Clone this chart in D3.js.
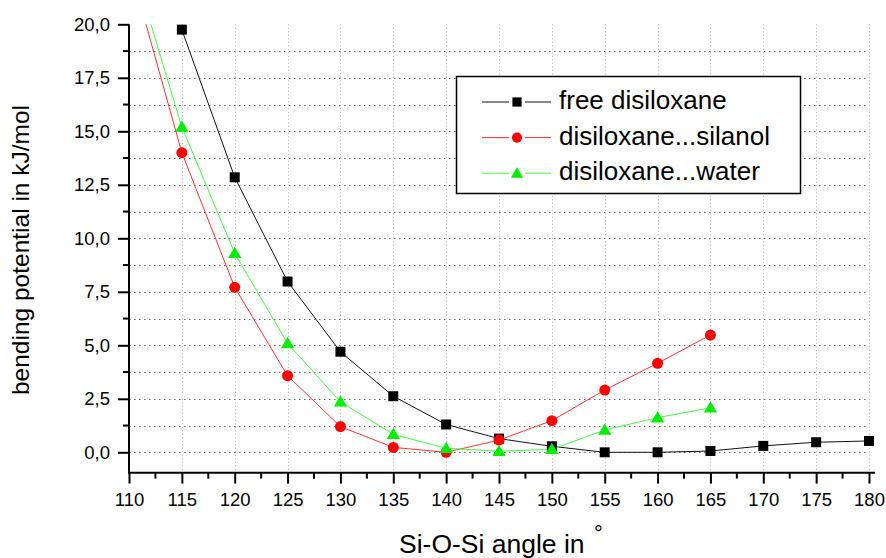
<!DOCTYPE html>
<html>
<head>
<meta charset="utf-8">
<script src="https://cdn.jsdelivr.net/npm/d3@7"></script>
<style>
  body { margin: 0; background: #fff; }
  svg { display: block; font-family: "Liberation Sans", Arial, sans-serif; }
</style>
</head>
<body>
<div id="chart"></div>
<script>
// angles (x) and the three series, null = no point
const angles = [110, 115, 120, 125, 130, 135, 140, 145, 150, 155, 160, 165, 170, 175, 180];
const freeDisiloxane = [null, 19.75, 12.85, 7.98, 4.7, 2.62, 1.3, 0.64, 0.28, 0.0, 0.0, 0.06, 0.3, 0.47, 0.53];
const withSilanol = [22.85, 14.0, 7.71, 3.58, 1.2, 0.23, 0.0, 0.57, 1.48, 2.91, 4.16, 5.48, null, null, null];
const withWater = [23.4, 15.2, 9.3, 5.09, 2.36, 0.84, 0.19, 0.05, 0.14, 1.04, 1.62, 2.08, null, null, null];
const seriesNames = ['free disiloxane', 'disiloxane...silanol', 'disiloxane...water'];
const xTicks = d3.range(110, 181, 5);
const yTicks = d3.range(0, 20.01, 2.5);

const width = 886, height = 558;
const x = d3.scaleLinear().domain([110, 180]).range([129, 869]);
const y = d3.scaleLinear().domain([0, 20]).range([452.3, 24.3]);
const yBottom = y(-0.95);

const series = [
  { name: seriesNames[0], values: freeDisiloxane, stroke: '#111', fill: '#000', symbol: d3.symbolSquare, size: 100, lw: 1 },
  { name: seriesNames[1], values: withSilanol, stroke: '#ff3030', fill: '#ff0000', symbol: d3.symbolCircle, size: 95, lw: 1 },
  { name: seriesNames[2], values: withWater, stroke: '#40ff40', fill: '#00ee00', symbol: d3.symbolTriangle, size: 75, lw: 1 }
];

const svg = d3.select('#chart').append('svg')
  .attr('width', width).attr('height', height);

svg.append('defs').append('clipPath').attr('id', 'clip')
  .append('rect')
  .attr('x', x(110)).attr('y', y(20))
  .attr('width', x(180) - x(110) + 6).attr('height', yBottom - y(20));

// grid
const grid = svg.append('g');
grid.selectAll('.hg').data(d3.range(0, 20, 1.25)).enter().append('line')
  .attr('x1', x(110)).attr('x2', x(180))
  .attr('y1', d => Math.round(y(d)) + 0.5).attr('y2', d => Math.round(y(d)) + 0.5)
  .attr('stroke', '#666').attr('stroke-width', 1).attr('stroke-dasharray', '1.5,3.5');
grid.selectAll('.vg').data(xTicks.slice(1)).enter().append('line')
  .attr('x1', d => Math.round(x(d)) + 0.5).attr('x2', d => Math.round(x(d)) + 0.5)
  .attr('y1', y(20)).attr('y2', yBottom)
  .attr('stroke', '#b0b0b0').attr('stroke-width', 1).attr('stroke-dasharray', '1,2.5');

// axes
const fmt = d => d3.format('.1f')(d).replace('.', ',');
const xAxis = svg.append('g').attr('transform', `translate(0,${yBottom})`)
  .call(d3.axisBottom(x).tickValues(xTicks).tickSize(11).tickPadding(9).tickSizeOuter(0));
xAxis.append('g').selectAll('line').data(d3.range(112.5, 180, 5)).enter().append('line')
  .attr('x1', d => x(d)).attr('x2', d => x(d)).attr('y1', 0).attr('y2', 6)
  .attr('stroke', '#000').attr('stroke-width', 2);
xAxis.select('.domain').attr('d', `M${x(110) - 1},0H875`);

const yAxis = svg.append('g').attr('transform', `translate(${x(110)},0)`)
  .call(d3.axisLeft(y).tickValues(yTicks).tickFormat(fmt).tickSize(11).tickPadding(8).tickSizeOuter(0));
yAxis.append('g').selectAll('line').data(d3.range(1.25, 20, 2.5)).enter().append('line')
  .attr('x1', 0).attr('x2', -6).attr('y1', d => y(d)).attr('y2', d => y(d))
  .attr('stroke', '#000').attr('stroke-width', 2);
yAxis.select('.domain').attr('d', `M0,${y(20)}V${yBottom + 1}`);

[xAxis, yAxis].forEach(a => {
  a.select('.domain').attr('stroke', '#000').attr('stroke-width', 2);
  a.selectAll('.tick line').attr('stroke', '#000').attr('stroke-width', 2);
  a.selectAll('.tick text').attr('font-size', 18.5).attr('fill', '#000')
    .attr('font-family', '"Liberation Sans", Arial, sans-serif');
});

// lines (straight segments between points)
const line = d3.line()
  .x(d => x(d.a)).y(d => y(d.v));

const plot = svg.append('g');
series.forEach(s => {
  const pts = angles.map((a, i) => ({ a: a, v: s.values[i] })).filter(d => d.v !== null);
  plot.append('path').datum(pts)
    .attr('clip-path', 'url(#clip)')
    .attr('fill', 'none').attr('stroke', s.stroke).attr('stroke-width', s.lw)
    .attr('d', line);
});
series.forEach(s => {
  const pts = angles.map((a, i) => ({ a: a, v: s.values[i] }))
    .filter(d => d.v !== null && d.v <= 20);
  plot.append('g').selectAll('path').data(pts).enter().append('path')
    .attr('transform', d => `translate(${x(d.a)},${y(d.v) + (s.symbol === d3.symbolTriangle ? 1 : 0)})`)
    .attr('d', d3.symbol().type(s.symbol).size(s.size))
    .attr('fill', s.fill);
});

// legend
const legend = svg.append('g');
legend.append('rect')
  .attr('x', 456.5).attr('y', 76.5).attr('width', 344).attr('height', 117)
  .attr('fill', '#fff').attr('stroke', '#000').attr('stroke-width', 1.5);
series.forEach((s, i) => {
  const ly = 102 + i * 35.6;
  [[482, 509], [525, 551]].forEach(seg => {
    legend.append('line').attr('x1', seg[0]).attr('x2', seg[1]).attr('y1', ly).attr('y2', ly)
      .attr('stroke', s.stroke).attr('stroke-width', s.lw);
  });
  legend.append('path')
    .attr('transform', `translate(517,${ly + (s.symbol === d3.symbolTriangle ? 1 : 0)})`)
    .attr('d', d3.symbol().type(s.symbol).size(s.size * 0.85))
    .attr('fill', s.fill);
  legend.append('text').attr('x', 559).attr('y', ly).attr('dy', '0.27em')
    .attr('font-size', 26).attr('fill', '#000').text(s.name);
});

// axis titles
svg.append('text')
  .attr('transform', 'translate(29,250) rotate(-90)')
  .attr('text-anchor', 'middle').attr('font-size', 24.5).attr('fill', '#000')
  .text('bending potential in kJ/mol');

const xt = svg.append('text')
  .attr('x', 399).attr('y', 553)
  .attr('font-size', 26.5).attr('fill', '#000')
  .text('Si-O-Si angle in ');
xt.append('tspan').attr('font-size', 22).attr('dx', 2).attr('dy', -12).text('°');
</script>
</body>
</html>
